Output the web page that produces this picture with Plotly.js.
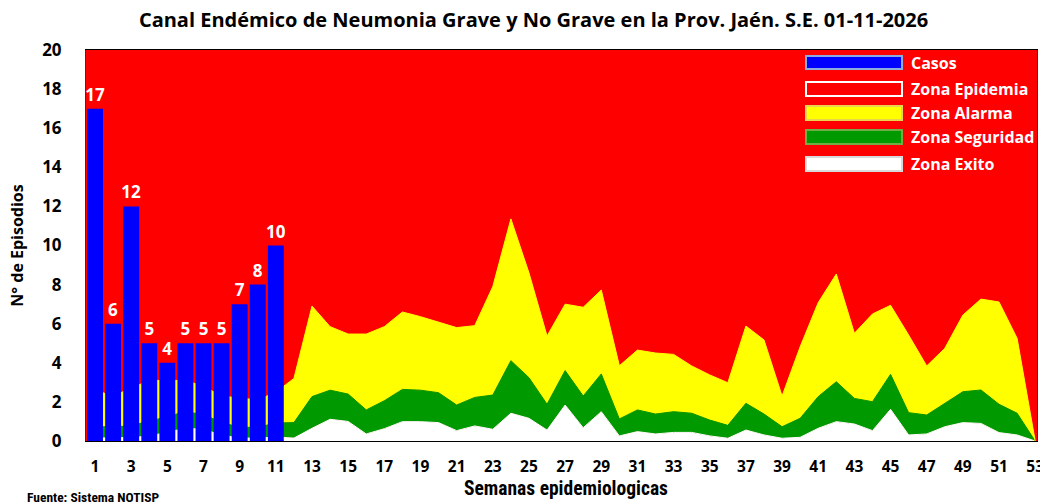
<!DOCTYPE html>
<html>
<head>
<meta charset="utf-8">
<script src="https://cdn.plot.ly/plotly-3.0.1.min.js"></script>
<style>html,body{margin:0;padding:0;background:#fff;}#chart{width:1040px;height:504px;}</style>
</head>
<body>
<div id="chart"></div>
<script>
// ---- Data ----
const weeks = Array.from({length: 53}, (_, i) => i + 1);
const casosWeeks = [1,2,3,4,5,6,7,8,9,10,11];
const casos = [17,6,12,5,4,5,5,5,7,8,10];

// Upper boundary of each zone (cumulative), per epidemiological week 1..53
const zonaExito = [0.15,0.15,0.18,0.25,0.45,0.65,0.6,0.3,0.15,0.15,0.2,0.15,0.65,1.11,1.0,0.36,0.63,0.99,0.99,0.94,
  0.53,0.77,0.6,1.42,1.16,0.56,1.84,0.68,1.5,0.26,0.48,0.36,0.44,0.44,0.26,0.14,0.56,0.31,0.14,0.19,
  0.65,0.99,0.87,0.53,1.62,0.31,0.36,0.73,0.94,0.9,0.43,0.31,0];
const zonaSeguridad = [0.75,0.7,0.8,1.0,1.25,1.5,1.35,0.95,0.7,0.7,0.92,0.94,2.27,2.6,2.4,1.59,2.06,2.64,2.6,2.47,
  1.84,2.23,2.35,4.11,3.24,1.88,3.6,2.3,3.43,1.13,1.59,1.38,1.5,1.42,1.07,0.8,1.93,1.38,0.73,1.16,
  2.27,3.03,2.18,2.01,3.41,1.45,1.33,1.93,2.52,2.61,1.88,1.42,0];
const zonaAlarma = [2.6,2.3,2.7,3.1,3.1,3.1,2.8,2.3,2.2,2.1,2.5,3.2,6.9,5.85,5.47,5.47,5.85,6.6,6.36,6.1,
  5.8,5.9,7.9,11.36,8.6,5.37,7.0,6.84,7.72,3.85,4.65,4.5,4.43,3.84,3.38,2.98,5.88,5.17,2.3,4.82,
  7.08,8.54,5.51,6.5,6.94,5.42,3.84,4.74,6.44,7.26,7.11,5.25,0];

const xTicks = [1,3,5,7,9,11,13,15,17,19,21,23,25,27,29,31,33,35,37,39,41,43,45,47,49,51,53];
const legendLabels = ['Casos','Zona Epidemia','Zona Alarma','Zona Seguridad','Zona Exito'];

// ---- Styles ----
const RED = '#FF0000', YELLOW = '#FFFF00', GREEN = '#009900', BLUE = '#0000FF';
const FONT = 'Open Sans, Noto Sans, Liberation Sans, sans-serif';
const NARROW = 'Liberation Sans Narrow, Roboto Condensed, Liberation Sans, sans-serif';

const traces = [
  {x: weeks, y: zonaExito, type: 'scatter', mode: 'lines', fill: 'tozeroy',
   fillcolor: '#FFFFFF', line: {color: '#FFFFFF', width: 1}, name: 'Zona Exito', hoverinfo: 'skip'},
  {x: weeks, y: zonaSeguridad, type: 'scatter', mode: 'lines', fill: 'tonexty',
   fillcolor: GREEN, line: {color: GREEN, width: 1}, name: 'Zona Seguridad', hoverinfo: 'skip'},
  {x: weeks, y: zonaAlarma, type: 'scatter', mode: 'lines', fill: 'tonexty',
   fillcolor: YELLOW, line: {color: YELLOW, width: 1}, name: 'Zona Alarma', hoverinfo: 'skip'},
  {x: casosWeeks, y: casos, type: 'bar', xaxis: 'x2', yaxis: 'y2', name: 'Casos',
   marker: {color: BLUE, line: {width: 0}},
   text: casos.map(String), textposition: 'outside', cliponaxis: false, constraintext: 'none',
   textfont: {color: '#FFFFFF', size: 17, family: FONT, weight: 'bold'}, hoverinfo: 'skip'}
];

// plot area in pixels
const L = 86, R = 1037, T = 50, B = 441;
const W = 1040, H = 504;
const px = v => (v - L) / (R - L);
const py = v => (B - v) / (B - T);

const swatches = [
  {y0: 56, y1: 69, fill: BLUE, line: '#8FAADC'},
  {y0: 82, y1: 96, fill: RED, line: '#FFFFFF'},
  {y0: 106, y1: 120, fill: YELLOW, line: '#E8D44D'},
  {y0: 130, y1: 144, fill: GREEN, line: '#70AD47'},
  {y0: 157, y1: 171, fill: '#FFFFFF', line: '#D9D9D9'}
];
const shapes = swatches.map(s => ({
  type: 'rect', xref: 'paper', yref: 'paper',
  x0: px(806), x1: px(902), y0: py(s.y1), y1: py(s.y0),
  fillcolor: s.fill, line: {color: s.line, width: 2}, layer: 'above'
}));
const annotations = legendLabels.map((t, i) => ({
  text: t, xref: 'paper', yref: 'paper', x: px(909), y: py((swatches[i].y0 + swatches[i].y1) / 2),
  xanchor: 'left', yanchor: 'middle', showarrow: false,
  font: {color: '#FFFFFF', size: 16, family: FONT, weight: 'bold'}
}));
annotations.push({
  text: 'Semanas epidemiologicas', xref: 'paper', yref: 'paper', x: px(566), y: py(489),
  xanchor: 'center', yanchor: 'middle', showarrow: false,
  font: {color: '#000', size: 19.5, family: NARROW, weight: 'bold'}
});
annotations.push({
  text: 'Fuente: Sistema NOTISP', xref: 'paper', yref: 'paper', x: px(25), y: py(497),
  xanchor: 'left', yanchor: 'middle', showarrow: false,
  font: {color: '#000', size: 13.5, family: NARROW, weight: 'bold'}
});

const xr = [0.5, 53.1];
const layout = {
  width: W, height: H,
  margin: {l: L, r: W - R, t: T, b: H - B},
  paper_bgcolor: '#FFFFFF', plot_bgcolor: RED,
  showlegend: false,
  title: {text: 'Canal Endémico de Neumonia Grave y No Grave en la Prov. Jaén. S.E. 01-11-2026',
          x: 0.513, xanchor: 'center', y: 1 - 20 / H, yanchor: 'middle',
          font: {family: FONT, size: 20, color: '#000', weight: 'bold'}},
  xaxis: {range: xr, tickvals: xTicks, ticktext: xTicks.map(String), showgrid: false, zeroline: false,
          showline: true, linecolor: '#000', linewidth: 1, mirror: true, ticks: '',
          ticklabeloverflow: 'allow',
          tickfont: {family: FONT, size: 15.5, color: '#000', weight: 'bold'}, ticklabelstandoff: 11},
  yaxis: {range: [0, 20], dtick: 2, showgrid: false, zeroline: false,
          showline: true, linecolor: '#333', linewidth: 1, mirror: true, ticks: '',
          tickfont: {family: FONT, size: 17, color: '#000', weight: 'bold'}, ticklabelstandoff: 20,
          title: {text: 'N° de Episodios', standoff: 14,
                  font: {family: FONT, size: 16, color: '#000', weight: 'bold'}}},
  xaxis2: {range: xr, overlaying: 'x', visible: false},
  yaxis2: {range: [0, 20], overlaying: 'y', visible: false},
  bargap: 0.12,
  shapes: shapes,
  annotations: annotations
};

Plotly.newPlot('chart', traces, layout, {displayModeBar: false, staticPlot: true});
</script>
</body>
</html>
